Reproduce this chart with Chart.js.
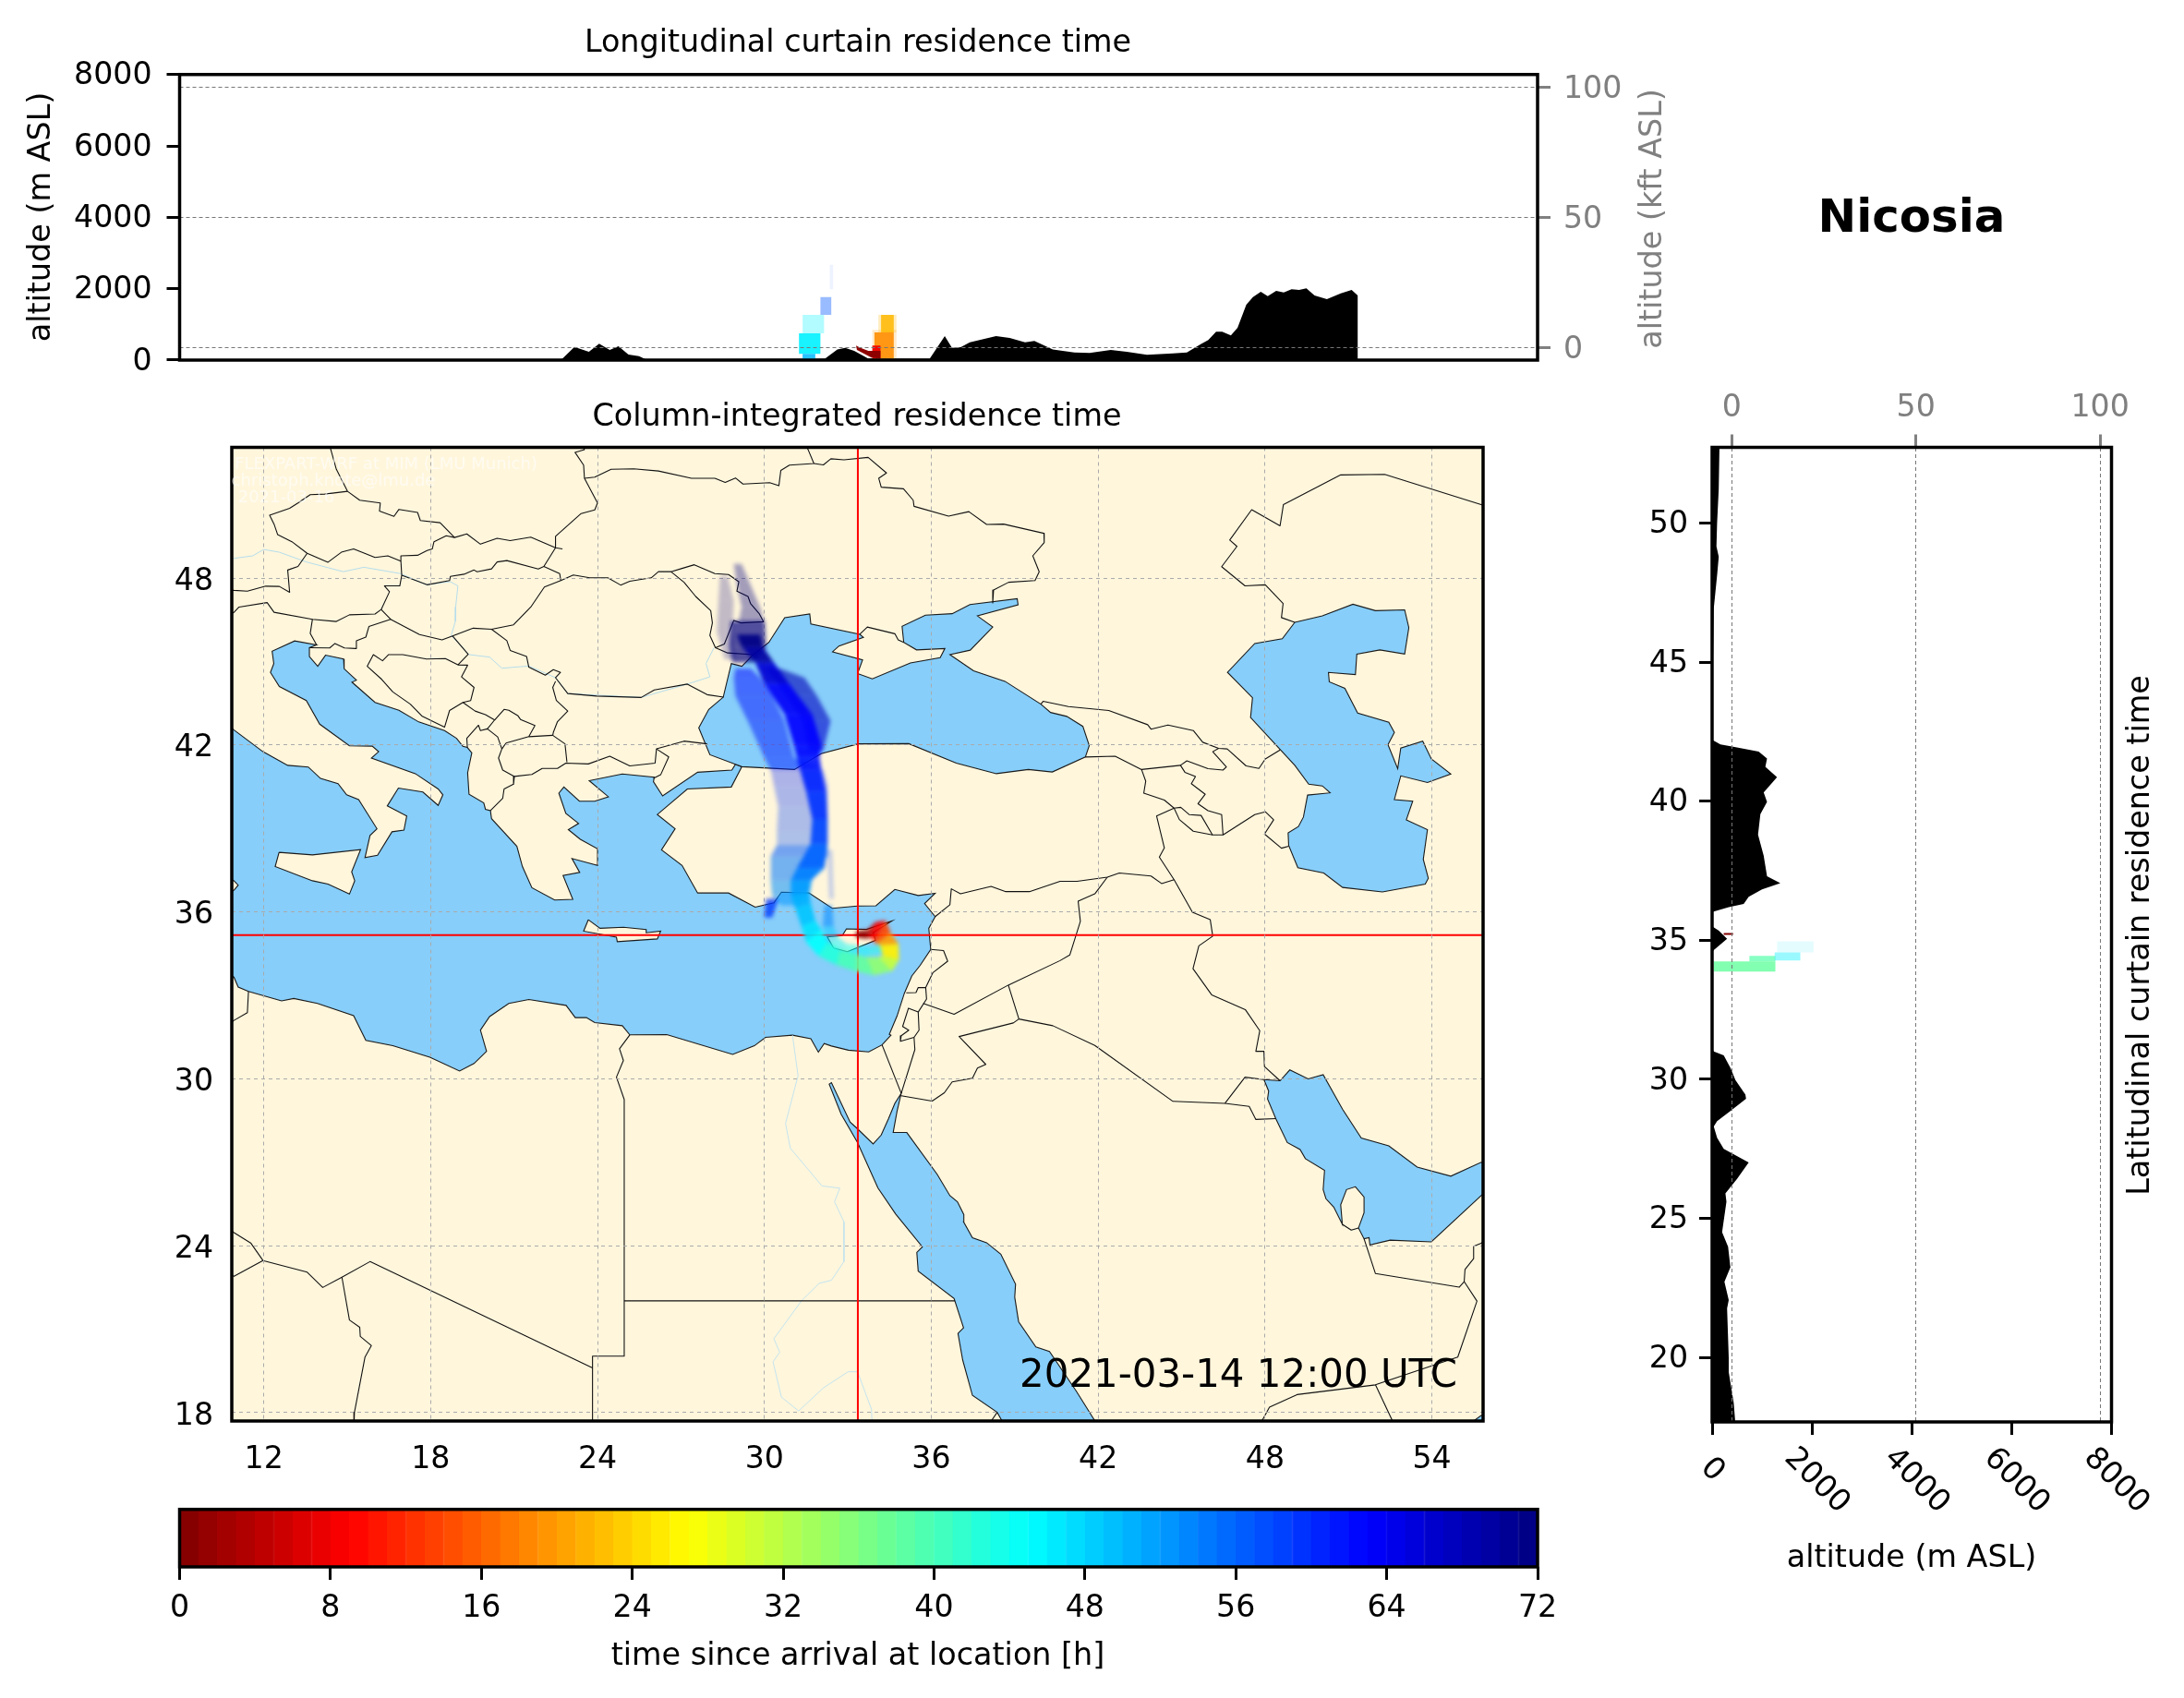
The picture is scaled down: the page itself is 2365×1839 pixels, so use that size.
<!DOCTYPE html>
<html><head><meta charset="utf-8">
<style>html,body{margin:0;padding:0;background:#fff;width:2365px;height:1839px;overflow:hidden}
canvas{position:absolute;left:0;top:0}
#cPlume{filter:blur(2.2px)}</style>
<script src="https://cdn.jsdelivr.net/npm/chart.js@4"></script>
</head><body>
<canvas id="cTop" width="2365" height="1839"></canvas>
<canvas id="cMap" width="2365" height="1839"></canvas>
<canvas id="cPlume" width="2365" height="1839"></canvas>
<canvas id="cMapFrame" width="2365" height="1839"></canvas>
<canvas id="cSide" width="2365" height="1839"></canvas>
<canvas id="cBar" width="2365" height="1839"></canvas>
<script>
// ---------- axis ticks ----------
const altTicks=[0,2000,4000,6000,8000];
const kftTicks=[0,50,100];
const lonTicks=[12,18,24,30,36,42,48,54];
const latTicks=[18,24,30,36,42,48];
const sideLatTicks=[20,25,30,35,40,45,50];
const hourTicks=[0,8,16,24,32,40,48,56,64,72];
const hourLevels=[0,1,2,3,4,5,6,7,8,9,10,11,12,13,14,15,16,17,18,19,20,21,22,23,24,25,26,27,28,29,30,31,32,33,34,35,36,37,38,39,40,41,42,43,44,45,46,47,48,49,50,51,52,53,54,55,56,57,58,59,60,61,62,63,64,65,66,67,68,69,70,71];
const stationLon=[33.36], stationLat=[35.17];

// ---------- terrain curtains ----------
const terrainLonAlt=[[23.4,0],[23.53,40],[23.93,370],[24.41,230],[24.75,457],[25.1,285],[25.39,390],[25.72,155],[26.07,110],[26.3,20],[32.23,40],[32.64,300],[32.9,345],[33.2,260],[33.66,45],[35.7,40],[36.2,672],[36.44,345],[36.73,362],[37.03,500],[37.9,672],[38.35,620],[38.86,500],[39.17,535],[39.78,300],[40.49,215],[41,198],[41.7,285],[42.23,233],[42.9,148],[43.76,190],[44.22,215],[44.68,448],[44.93,560],[45.19,793],[45.39,793],[45.68,690],[45.9,905],[46.19,1552],[46.41,1767],[46.67,1914],[46.9,1793],[47.18,1940],[47.43,1896],[47.69,1983],[47.94,1965],[48.18,2008],[48.45,1810],[48.86,1707],[49.32,1870],[49.68,1965],[49.88,1810],[49.88,0]];
const terrainLatAltA=[[52.72,147],[51.23,133],[50,100],[49.16,87],[48.79,133],[48.12,100],[46.93,33],[45.3,20],[44,5],[42.34,0]];
const terrainLatAltB=[[42.2,10],[42.04,167],[41.96,400],[41.78,933],[41.53,1100],[41.23,1067],[40.86,1300],[40.31,1033],[39.97,1100],[39.53,967],[38.79,920],[38.04,1033],[37.3,1100],[37.05,1367],[36.83,1000],[36.56,733],[36.3,633],[36.19,333],[36.01,0]];
const terrainLatAltC=[[35.5,0],[35.35,130],[35.05,300],[34.64,33],[34.55,0]];
const terrainLatAltD=[[31.1,0],[31,33],[30.86,233],[30.41,367],[29.97,467],[29.45,667],[29.3,680],[28.86,367],[28.49,100],[28.3,33],[27.9,100],[27.5,233],[27.01,733],[26.42,500],[25.9,267],[25.6,287],[24.5,200],[23.98,320],[23.24,367],[22.72,247],[22.06,333],[21.76,300],[19.99,333],[19.47,333],[18.36,433],[17.6,467],[17.6,0]];

// residence cells: from, to, low, high, hour, opacity
const lonCurtainCells=[[33.8,34.6,0,850,20,.2],[34.09,34.51,776,1267,22,.85],[34.0,34.6,776,1267,22,.25],[33.87,34.51,43,776,19,.9],[31.37,32.08,172,750,46,.9],[31.49,31.91,0,172,50,.85],[31.49,32.2,750,1267,46,.3],[32.08,32.44,1267,1767,57,.4],[32.39,32.5,1983,2673,57,.07],[33.8,34.07,43,405,8,.95]];
const lonWedge=[[33.26,405],[33.29,285],[33.77,70],[34.07,43],[34.07,259],[33.67,259],[33.41,345]];
const latCurtainCells=[[33,1267,33.87,34.24,38,.8],[747,1267,34.24,34.44,39,.7],[1253,1767,34.27,34.56,46,.4],[1300,2033,34.56,34.96,47,.1],[233,420,35.19,35.26,0,1]];

// ---------- water and land outlines (lon, lat) ----------
const mediterranean=[[10.5,42.9],[10.93,42.54],[11.97,41.76],[12.86,41.27],[13.6,41.21],[14.04,40.8],[14.67,40.61],[14.98,40.21],[15.41,40.04],[16.07,38.99],[15.82,38.75],[15.64,37.95],[16.09,38.04],[16.61,38.88],[17.04,38.94],[17.14,39.45],[16.44,39.81],[16.84,40.45],[17.72,40.31],[18.27,39.83],[18.44,40.21],[18.27,40.42],[17.45,40.97],[15.87,41.53],[16.13,41.76],[15.9,41.96],[15.08,41.97],[14.01,42.75],[13.53,43.6],[12.56,44.1],[12.24,44.61],[12.36,44.93],[12.3,45.37],[13.11,45.74],[13.9,45.6],[13.64,45.5],[13.64,45.18],[13.94,44.83],[14.22,45.23],[14.87,45.09],[14.89,44.74],[15.33,44.33],[15.17,44.26],[16.0,43.53],[16.86,43.25],[17.57,42.83],[18.5,42.52],[18.93,42.24],[19.16,41.95],[19.32,41.91],[19.48,41.72],[19.33,41.0],[19.38,40.23],[19.91,39.92],[19.97,39.69],[20.15,39.64],[20.19,39.35],[21.1,38.36],[21.3,37.63],[21.64,36.87],[22.46,36.43],[23.11,36.45],[22.76,37.31],[23.36,37.42],[23.08,37.92],[24.0,37.67],[24.0,38.27],[23.38,38.61],[22.95,38.96],[23.32,39.18],[22.86,39.54],[22.61,40.27],[22.79,40.49],[23.35,39.98],[23.9,39.98],[24.39,40.14],[23.7,40.72],[24.89,40.96],[26.04,40.84],[26.01,40.68],[26.34,40.17],[27.6,41.02],[28.83,41.1],[28.96,41.31],[29.19,41.22],[28.81,40.49],[27.23,40.42],[26.15,39.5],[26.79,38.99],[26.3,38.23],[27.04,37.67],[27.6,36.68],[28.71,36.68],[29.67,36.17],[30.34,36.33],[30.61,36.71],[31.6,36.68],[32.44,36.13],[33.35,36.21],[34.01,36.22],[34.69,36.81],[35.53,36.59],[36.14,36.67],[35.76,36.3],[36.14,35.83],[35.91,35.41],[35.98,34.65],[35.6,34.08],[35.3,33.7],[35.03,33.07],[34.77,32.26],[34.49,31.6],[34.55,31.57],[34.23,31.22],[33.75,30.97],[33.02,31.03],[32.41,31.18],[32.15,31.27],[31.94,30.96],[31.67,31.44],[31.01,31.57],[30.04,31.49],[29.64,31.19],[28.86,30.88],[26.49,31.59],[25.16,31.58],[24.89,31.91],[23.9,32.02],[23.6,32.2],[23.2,32.2],[22.87,32.64],[21.53,32.85],[20.81,32.71],[20.12,32.24],[19.79,31.75],[20.01,30.99],[19.56,30.55],[19.04,30.28],[17.97,30.78],[16.64,31.19],[15.67,31.38],[15.23,32.27],[13.93,32.71],[13.08,32.89],[12.64,32.8],[11.45,33.14],[11.08,33.3],[10.93,33.65],[10.5,34.0]];
const blackSea=[[28.96,41.31],[29.19,41.22],[31.08,41.12],[32.04,41.69],[33.37,42.04],[35.19,42.05],[36.9,41.35],[38.34,40.97],[39.49,41.12],[40.35,41.03],[41.54,41.57],[41.68,41.98],[41.45,42.67],[40.87,43.03],[40.29,43.17],[39.94,43.47],[38.65,44.29],[37.52,44.67],[36.67,45.25],[37.4,45.41],[38.21,46.24],[37.66,46.64],[39.12,47.04],[39.09,47.26],[37.39,47.05],[36.75,46.72],[35.79,46.67],[34.95,46.27],[35.01,45.69],[35.47,45.42],[36.49,45.47],[36.32,45.14],[35.25,44.95],[33.88,44.38],[33.35,44.57],[33.53,45.06],[32.45,45.35],[32.68,45.56],[33.56,45.87],[33.43,45.98],[31.67,46.35],[31.63,46.71],[30.73,46.58],[30.16,45.69],[29.6,45.25],[29.19,44.83],[28.81,44.93],[28.52,43.72],[28.0,43.28],[27.64,42.62],[28.04,41.65]];
const caspianSea=[[49.07,46.41],[50.06,46.64],[51.16,47.06],[51.97,46.83],[53.02,46.86],[53.17,46.22],[53.02,45.27],[52.13,45.42],[51.3,45.27],[51.25,44.53],[50.28,44.61],[50.31,44.27],[50.87,44.04],[51.33,43.15],[52.45,42.82],[52.65,42.45],[52.42,42.01],[52.77,41.15],[52.88,41.89],[53.67,42.14],[53.98,41.5],[54.68,40.96],[53.84,40.65],[52.88,40.89],[52.65,40.04],[53.31,39.98],[53.08,39.31],[53.84,38.96],[53.69,37.89],[53.87,37.21],[53.76,37.0],[52.22,36.72],[50.79,36.88],[50.11,37.4],[49.18,37.59],[48.85,38.39],[48.83,38.84],[49.2,39.07],[49.38,39.41],[49.53,40.2],[50.34,40.28],[50.06,40.53],[49.57,40.59],[49.07,41.27],[47.48,42.99],[47.55,43.7],[46.65,44.61],[47.63,45.65],[48.62,45.82]];
const redSea=[[42.0,17.4],[41.88,17.71],[41.21,18.78],[40.25,20.2],[39.76,20.36],[39.14,21.27],[39.0,22.15],[39.03,22.62],[38.5,23.7],[37.99,24.11],[37.48,24.29],[37.16,24.86],[37.17,25.12],[36.94,25.58],[36.67,25.8],[36.21,26.57],[35.12,28.07],[34.63,28.07],[34.77,28.84],[34.92,29.48],[34.69,29.12],[34.46,28.56],[34.2,27.98],[33.91,27.66],[33.32,28.23],[33.08,28.45],[32.41,29.86],[32.33,29.81],[32.76,28.73],[33.35,27.71],[34.08,26.08],[34.72,25.14],[35.68,23.96],[35.48,23.76],[35.53,23.09],[36.82,22.1],[37.16,21.05],[36.96,20.85],[37.13,19.89],[37.48,18.62],[38.37,18.01],[38.54,17.71],[38.7,17.4]];
const persianGulf=[[47.96,29.97],[48.54,29.93],[48.89,30.32],[49.55,30.0],[50.09,30.15],[50.79,28.9],[51.46,27.87],[52.45,27.59],[53.47,26.83],[54.68,26.5],[55.77,27.0],[56.5,26.6],[56.5,26.5],[55.77,25.8],[53.98,24.14],[52.5,24.2],[51.77,24.03],[51.74,24.29],[51.56,24.25],[51.36,24.64],[51.56,25.19],[51.56,25.75],[51.25,26.12],[50.93,26.02],[50.72,25.47],[50.78,24.77],[50.47,25.39],[50.19,25.69],[50.09,26.02],[50.14,26.71],[49.45,27.13],[49.26,27.46],[48.8,27.71],[48.39,28.56],[48.09,29.28],[48.13,29.56]];
const gulfOfAden=[[55.51,17.71],[55.77,17.9],[56.5,17.9],[56.5,17.4],[55.4,17.4]];
const sicily=[[12.55,38.14],[13.75,38.05],[15.48,38.24],[15.16,37.44],[15.27,37.12],[15.08,36.64],[14.31,37.0],[13.75,37.12],[12.41,37.63]];
const crete=[[23.67,35.72],[24.09,35.41],[24.93,35.45],[25.75,35.37],[25.75,35.25],[26.27,35.31],[26.15,35.03],[24.71,34.93],[24.68,35.09],[23.5,35.31]];
const cyprus=[[32.73,35.14],[32.8,35.15],[32.95,35.39],[33.67,35.37],[34.58,35.67],[33.9,35.25],[34.0,34.98],[32.98,34.57],[32.49,34.7],[32.26,35.1]];
const capBon=[[10.5,37.3],[10.93,37.12],[11.08,36.96],[10.93,36.78],[10.5,36.5]];

// ---------- rivers ----------
const danube=[[10.5,48.7],[10.93,48.71],[11.6,48.8],[12,49.03],[12.56,48.93],[13.53,48.58],[14.86,48.23],[15.6,48.39],[16.93,48.16],[17.85,47.76],[18.71,47.87],[18.98,47.72],[18.9,46.96],[18.89,46.45],[18.74,45.94],[19.38,45.25],[20.12,45.16],[20.56,44.76],[21.53,44.84],[22.49,44.42],[22.93,43.85],[25.57,43.71],[27.23,44.19],[28.04,44.45],[27.9,44.93],[28.19,45.5]];
const nile=[[31.01,31.57],[31.21,30.11],[30.76,28.4],[30.93,27.51],[32.07,26.15],[32.71,26.07],[32.52,25.58],[32.86,24.86],[32.86,23.43],[32.41,22.76],[31.97,22.65],[31.35,22.04],[30.34,20.66],[30.55,20.17],[30.31,19.83],[30.61,18.56],[31.23,18.06],[32.12,18.89],[33.01,19.47],[33.35,19.47],[33.85,18.12],[33.88,17.4]];

// ---------- borders ----------
const borders=[
[[14.3,53],[14.41,52.62],[14.61,51.91],[15.01,51.12],[15.45,50.8],[16.19,50.7],[16.16,50.41],[16.68,50.22],[16.86,50.47],[17.53,50.36],[17.63,50.07],[18.34,49.99],[18.86,49.46]],
[[15.01,51.12],[14.19,51.02],[13.67,51.0],[13.23,50.7],[12.93,50.51],[12.21,50.26],[12.37,49.94],[12.5,49.56],[13.01,49.31],[13.56,48.89],[14.31,48.57],[14.79,48.93],[15.23,49.05],[16.0,48.74],[16.46,48.8],[16.93,48.61]],
[[16.93,48.61],[16.93,48.8],[17.53,48.82],[17.87,48.99],[18.06,49.05],[18.12,49.31],[18.56,49.52],[18.86,49.46],[19.3,49.59],[19.79,49.22],[20.39,49.43],[20.86,49.35],[21.6,49.47],[22.49,49.09],[22.74,49.05]],
[[13.56,48.89],[13.23,48.42],[12.86,48.29],[12.93,47.49],[12.56,47.7],[12.07,47.71],[11.41,47.53],[10.93,47.56],[10.5,47.6]],
[[10.5,46.6],[10.93,46.77],[11.11,46.96],[12.12,47.12],[12.37,46.77],[13.75,46.52],[14.61,46.44],[15.08,46.68],[16.0,46.71],[16.22,46.87],[16.52,47.51],[16.34,47.72],[16.89,47.72],[16.96,48.1],[16.93,48.61]],
[[16.96,48.1],[17.87,47.76],[18.68,47.91],[18.71,48.06],[19.2,48.14],[19.56,48.29],[19.67,48.23],[20.19,48.33],[20.39,48.58],[20.74,48.63],[21.87,48.33],[22.07,48.42],[22.49,49.09],[22.49,49.5],[23.41,50.32],[23.9,50.45],[24.0,50.7],[23.53,51.59],[23.5,52.06],[23.19,52.52],[23.53,52.62],[23.3,53]],
[[23.53,51.59],[23.9,51.63],[24.49,51.91],[25.3,51.93],[26.19,51.85],[27.38,51.59],[28.22,51.59],[28.59,51.44],[28.96,51.6],[29.23,51.38],[30.19,51.43],[30.52,51.32],[30.59,51.87],[30.9,52.06],[31.78,52.12],[31.57,52.62],[31.4,53]],
[[31.78,52.12],[32.12,52.07],[32.39,52.29],[32.86,52.25],[33.73,52.34],[34.39,51.78],[34.11,51.59],[34.2,51.27],[35.0,51.21],[35.35,50.8],[35.38,50.58],[36.62,50.23],[37.35,50.39],[37.99,49.93],[38.6,49.94],[40.05,49.61],[40.06,49.28],[39.65,48.8],[39.88,48.23],[39.73,47.91],[38.78,47.85],[38.24,47.57],[38.21,47.11]],
[[56.3,50.4],[55.77,50.64],[52.3,51.73],[50.72,51.71],[48.66,50.64],[48.54,49.88],[47.52,50.46],[46.73,49.37],[46.99,49.14],[46.44,48.41],[47.28,47.72],[48.01,47.76],[48.65,47.09],[48.59,46.58],[49.07,46.41]],
[[33.43,45.98],[33.7,46.24],[34.69,46.0],[34.81,45.78],[35.01,45.69]],
[[13.75,46.52],[13.67,46.01],[13.9,45.6]],
[[13.64,45.5],[14.37,45.49],[14.56,45.65],[14.9,45.49],[15.3,45.47],[15.33,45.75],[15.67,45.88],[15.78,46.26],[16.56,46.52],[16.22,46.87]],
[[16.56,46.52],[17.6,45.97],[18.41,45.78],[18.79,45.92],[19.53,46.2],[20.19,46.16],[20.98,46.32],[21.6,46.96],[22.09,47.68],[22.68,47.91],[22.64,48.16],[22.07,48.42]],
[[22.68,47.91],[23.13,48.11],[23.72,48.01],[24.37,48.01],[24.83,47.75],[25.16,47.89],[25.93,48.01],[26.19,48.23],[26.64,48.23],[27.01,48.34],[27.48,48.48],[28.22,48.16],[28.71,48.13],[29.08,47.87],[29.01,47.53],[29.41,47.34],[29.5,47.09],[29.82,46.71],[29.97,46.43],[29.16,46.39],[28.9,46.48],[28.56,45.63],[28.24,45.5]],
[[26.64,48.23],[27.11,47.85],[27.53,47.34],[28.07,46.83],[28.13,46.39],[28.04,45.94],[28.24,45.5],[28.68,45.31],[29.6,45.25]],
[[20.19,46.16],[20.74,45.75],[20.86,45.4],[21.45,45.18],[21.53,44.8],[22.12,44.51],[22.41,44.71],[22.67,44.61],[22.49,44.42],[22.93,43.85],[23.97,43.76],[25.57,43.71],[26.04,43.98],[27.23,44.19],[27.94,43.81],[28.53,43.72]],
[[22.49,44.29],[22.39,44.07],[22.52,43.6],[22.93,43.22],[22.56,42.84],[22.41,42.45],[22.39,42.35],[22.83,42.04],[22.9,41.38]],
[[18.79,45.92],[19.35,45.26],[18.98,44.88],[18.53,45.11],[17.85,45.09],[17.0,45.25],[16.49,45.25],[16.27,45.03],[15.94,45.25],[15.72,44.83],[16.24,44.36],[16.64,43.91],[17.27,43.47],[17.7,43.03],[18.5,42.64],[18.68,43.24],[19.16,43.53],[19.44,43.6],[19.56,44.07],[19.11,44.45],[19.33,44.87],[18.98,44.88]],
[[19.16,43.53],[19.6,43.22],[19.97,43.09],[20.3,42.9],[20.04,42.58]],
[[19.32,41.91],[19.3,42.24],[19.72,42.71],[19.79,42.52],[20.04,42.58],[20.41,42.29],[20.56,41.86],[20.71,42.07]],
[[20.3,42.9],[20.64,43.28],[20.81,43.25],[21.13,43.06],[21.23,42.92],[21.75,42.7],[21.53,42.3],[20.71,42.07]],
[[21.53,42.3],[22.39,42.35]],
[[20.56,41.86],[20.44,41.53],[20.59,41.1],[21.01,40.87],[21.64,40.94],[22.01,41.16],[22.56,41.16],[22.86,41.35],[23.67,41.32],[24.44,41.6],[25.16,41.25],[26.07,41.35],[26.12,41.86],[27.11,42.14],[27.94,42.04]],
[[21.01,40.87],[20.98,40.59],[20.64,40.42],[20.59,40.08],[20.15,39.64]],
[[26.12,41.86],[26.56,41.57],[26.27,40.93],[26.01,40.8]],
[[39.94,43.47],[40.02,43.57],[40.93,43.38],[42.38,43.24],[43.78,42.73],[43.9,42.57],[44.51,42.72],[45.42,42.52],[45.76,42.1],[46.33,41.88],[46.64,41.86],[47.32,41.25],[47.78,41.16],[48.01,41.5],[48.54,41.82]],
[[41.54,41.57],[42.61,41.6],[43.56,41.12],[44.96,41.27],[45.19,41.43],[45.95,41.15],[46.49,41.1],[46.61,41.21],[46.12,41.76],[46.33,41.88]],
[[44.96,41.27],[45.12,41.02],[45.5,40.87],[45.35,40.61],[45.85,40.23],[45.59,39.89],[45.95,39.64],[46.44,39.5],[46.49,38.77]],
[[43.56,41.12],[43.71,40.7],[43.64,40.27],[44.38,40.02],[44.73,39.73],[44.1,39.45],[44.38,38.3],[44.2,37.97],[44.73,37.16],[45.39,35.99],[46.03,35.72],[46.12,35.13],[45.62,34.78],[45.41,33.96],[46.08,33.02],[47.29,32.49],[47.81,31.73],[47.67,30.99],[47.96,30.99],[47.98,30.44],[48.54,29.93]],
[[44.73,39.73],[44.97,39.76],[45.27,39.5],[45.7,39.47],[46.11,38.77]],
[[44.73,39.73],[44.92,39.32],[45.42,38.9],[46.11,38.77],[46.49,38.77],[47.63,39.5],[48.01,39.6],[48.31,39.31],[47.98,38.8],[48.59,38.29],[48.85,38.36]],
[[36.14,35.83],[36.67,36.26],[36.72,36.83],[37.05,36.65],[38.15,36.92],[38.68,36.73],[39.53,36.73],[40.63,37.1],[41.24,37.1],[42.33,37.25],[42.76,37.4],[43.9,37.29],[44.28,37.02],[44.73,37.16]],
[[42.33,37.25],[41.88,36.65],[41.28,36.39],[41.36,35.66],[40.98,34.45],[40.63,34.25],[38.77,33.37],[36.82,32.32],[35.71,32.71]],
[[38.77,33.37],[39.15,32.15],[38.95,32.01],[37.0,31.52],[37.96,30.52],[37.66,30.39],[37.48,30.02],[36.75,29.89],[36.47,29.5],[36.03,29.2],[34.92,29.39]],
[[39.15,32.15],[40.37,31.91],[41.88,31.2],[44.69,29.19],[46.56,29.12],[47.43,29.01],[47.67,28.54],[48.39,28.57]],
[[46.56,29.12],[47.28,30.06],[47.96,29.97]],
[[35.98,34.65],[36.44,34.61],[36.59,34.23],[36.06,33.82],[35.8,33.28],[35.53,33.28],[35.45,33.1],[35.1,33.09]],
[[35.8,33.28],[35.83,32.87],[35.53,32.4],[35.56,31.75],[35.38,31.49],[35.41,31.05],[34.92,29.48]],
[[35.53,32.4],[35.18,32.54],[34.97,31.88],[35.19,31.75],[34.92,31.55],[34.89,31.35],[35.38,31.49]],
[[34.23,31.22],[34.92,29.48]],
[[51.56,24.25],[51.97,23.0],[54.98,22.51],[55.16,22.71],[55.19,23.15],[55.5,23.54],[55.5,23.98],[55.77,24.09],[56.2,24.4]],
[[55.16,22.71],[55.62,22.01],[54.93,20.0],[51.97,19.0],[49.15,18.65],[48.16,18.2],[47.89,17.71],[47.8,17.4]],
[[51.97,19.0],[52.58,17.71],[52.7,17.4]],
[[25.16,31.58],[24.79,31.08],[24.93,30.66],[24.68,30.06],[24.96,29.26],[24.96,20.03],[23.82,20.03],[23.82,17.4]],
[[24.96,22.02],[36.85,22.02]],
[[23.82,19.61],[15.82,23.43],[14.81,22.87],[14.12,22.5],[13.56,23.05],[11.97,23.47],[11.53,24.1],[10.93,24.47],[10.5,24.8]],
[[11.97,23.47],[10.93,22.9],[10.5,23.2]],
[[14.81,22.87],[15.08,21.33],[15.45,21.07],[15.47,20.74],[15.87,20.41],[15.64,20.0],[15.26,18.01],[15.24,17.4]],
[[11.45,33.14],[11.41,32.38],[10.93,32.1],[10.5,31.8]],
[[38.37,18.01],[38.16,17.71],[38.0,17.4]],
[[50.78,24.77],[51.1,24.56],[51.36,24.64]]
];

// ---------- residence-time plume cross-sections: lonA, latA, lonB, latB, hours ----------
const plumeWideSouth=[[30.61,36.24,31.17,36.24,52],[30.28,36.58,31.61,36.58,53],[30.23,37.13,31.72,37.13,53],[30.23,38.0,32.27,38.0,56],[30.45,38.4,32.27,38.4,57]];
const plumeWideMid=[[30.45,38.4,32.27,38.4,57],[30.45,38.9,32.27,38.9,58],[30.5,39.78,32.27,39.78,59],[30.34,40.55,32.27,40.55,60],[30.23,41.11,32.11,41.11,61]];
const plumeWideNorth=[[30.23,41.11,32.11,41.11,61],[30.0,41.55,31.06,41.55,61],[29.4,42.87,30.72,42.87,62],[28.96,43.76,30.28,43.76,62],[28.9,44.42,29.84,44.42,63],[28.96,44.75,29.51,44.75,63]];
const plumeEastBand=[[31.61,41.77,32.11,41.77,66],[31.39,42.87,32.38,42.87,67],[30.78,43.76,31.89,43.76,68],[30.34,44.42,31.44,44.42,68],[30.0,44.75,30.56,44.75,69]];
const plumeBlob=[[28.85,44.97,29.62,44.97,72],[28.73,45.53,30.06,45.53,72],[28.79,46.46,30.01,46.46,72]];
const plumeTopStreak=[[28.9,48.51,29.18,48.51,72],[29.01,47.74,29.51,47.74,72],[29.18,46.96,29.84,46.96,72],[29.07,46.41,30.01,46.41,72]];
const plumeWestStreak=[[28.4,48.07,28.68,48.07,72],[28.35,47.18,28.9,47.18,72],[28.29,46.08,28.85,46.08,72],[28.57,45.08,28.96,45.08,72]];
const plumeThin=[[32.27,38.23,32.44,38.23,58],[32.33,36.47,32.49,36.47,58]];
const plumeHook=[[32.16,36.24,32.44,36.24,55],[32.1,35.47,32.49,35.47,52]];
const plumeInner=[[32.1,35.47,32.49,35.47,50],[32.27,34.81,32.66,35.08,47],[32.83,34.53,32.94,34.86,45],[33.71,34.42,33.77,34.75,44],[34.26,34.53,34.26,34.81,42]];
const plumeTail=[[30.06,36.47,30.5,36.47,58],[30.0,35.8,30.28,35.8,60]];
const plumeCore=[[29.01,45.97,29.84,45.97,72],[29.18,45.53,29.95,45.53,71],[29.67,44.97,30.34,44.97,68],[30.0,44.2,30.89,44.2,64],[30.73,43.1,31.72,43.1,63],[31.06,41.99,32.05,41.99,63],[31.17,41.55,31.98,41.55,62],[31.28,41.11,32.05,41.11,61],[31.5,40.33,32.22,40.33,60],[31.72,39.34,32.27,39.34,59],[31.66,38.45,32.27,38.45,57],[31.17,37.57,32.16,37.57,55],[30.95,37.13,31.67,37.13,53],[30.95,36.58,31.61,36.69,51],[31.11,36.13,31.67,36.3,50],[31.33,35.47,31.83,35.69,48],[31.5,34.92,32.05,35.36,46],[31.94,34.42,32.27,34.92,44],[32.6,34.09,32.72,34.64,41],[33.27,33.87,33.27,34.48,39],[33.93,33.72,33.66,34.37,37],[34.59,33.87,34.1,34.37,33],[34.84,34.26,34.26,34.42,29],[34.82,34.86,34.15,34.81,23],[34.54,35.25,33.99,34.86,17],[34.37,35.69,33.93,34.97,11],[33.99,35.64,33.82,35.08,6],[33.71,35.36,33.71,35.03,2],[33.29,35.3,33.29,35.08,0]];

// ---------- tick-free text ----------
const textItems=[
 ['Longitudinal curtain residence time',929,47,0,33.4,'#000','normal'],
 ['Column-integrated residence time',928,452,0,33.4,'#000','normal'],
 ['altitude (m ASL)',45,235,-90,33.4,'#000','normal'],
 ['altitude (kft ASL)',1790,237,-90,33.4,'#808080','normal'],
 ['Nicosia',2070,238,0,49.8,'#000','bold'],
 ['Latitudinal curtain residence time',2318,1013,-90,33.4,'#000','normal'],
 ['altitude (m ASL)',2070,1688,0,33.4,'#000','normal'],
 ['time since arrival at location [h]',929,1794,0,33.4,'#000','normal'],
 ['2021-03-14 12:00 UTC',1341,1491,0,41.9,'#000','normal'],
 ['FLEXPART-WRF at MIM (LMU Munich)',418,503,0,18,'rgba(255,255,255,.6)','normal'],
 ['christoph.knote@lmu.de',361,521,0,18,'rgba(255,255,255,.6)','normal'],
 ['2021-03-16',310,539,0,18,'rgba(255,255,255,.6)','normal']
];

const FONT='"DejaVu Sans"';
const tickFont={family:FONT,size:33.2};
Chart.defaults.font.family=FONT;
Chart.defaults.animation=false;

function jet(h,a){
  const t=1-h/72, c=v=>Math.round(255*Math.max(0,Math.min(1,1.5-Math.abs(v))));
  return `rgba(${c(4*t-3)},${c(4*t-2)},${c(4*t-1)},${a==null?1:a})`;
}
const framePlugin={id:'frame',
  beforeDraw(ch){const o=ch.options.plugins.frame||{};if(o.bg){const a=ch.chartArea;ch.ctx.fillStyle=o.bg;ch.ctx.fillRect(a.left,a.top,a.width,a.height);}},
  afterDraw(ch){const o=ch.options.plugins.frame||{};if(o.noStroke)return;const a=ch.chartArea,c=ch.ctx;c.save();c.strokeStyle='#000';c.lineWidth=3.5;c.strokeRect(a.left,a.top,a.width,a.height);c.restore();}};
const polyPlugin={id:'poly',beforeDatasetDraw(ch,args){
  const ds=ch.data.datasets[args.index]; if(!ds.polyFill) return;
  const a=ch.chartArea,c=ch.ctx,p=args.meta.data;
  c.save();c.beginPath();c.rect(a.left,a.top,a.width,a.height);c.clip();
  c.beginPath();p.forEach((e,i)=>i?c.lineTo(e.x,e.y):c.moveTo(e.x,e.y));c.closePath();
  c.fillStyle=ds.polyFill;c.fill();c.restore();}};
const textPlugin={id:'texts',afterDraw(ch){
  const c=ch.ctx;c.save();c.textAlign='center';c.textBaseline='middle';
  textItems.forEach(([s,x,y,r,z,col,w])=>{c.save();c.translate(x,y);c.rotate(r*Math.PI/180);
    c.font=`${w} ${z}px ${FONT}`;c.fillStyle=col;c.fillText(s,0,0);c.restore();});
  c.restore();}};

const zeroFit=s=>{if(s.isHorizontal())s.height=0;else s.width=0;};
const tickList=list=>s=>{s.ticks=list.map(v=>({value:v}));};
function axis(o,centerLabels){
  return Object.assign({type:'linear',afterFit:zeroFit,
    beforeUpdate:s=>{
      s._computeLabelArea=()=>undefined;
      if(centerLabels){
        s._getXAxisLabelAlignment=()=>'center';
        const base=Object.getPrototypeOf(s)._computeLabelItems;
        s._computeLabelItems=function(area){const items=base.call(this,area);
          if(items[0]){items[0].options.translation[0]-=5;items[0].options.translation[1]-=12;}return items;};
      }},
    ticks:{font:tickFont,color:'#000',autoSkip:false,minRotation:0,maxRotation:0,callback:v=>String(v),padding:12},
    grid:{drawOnChartArea:false,offset:false,tickLength:14,tickWidth:3,tickColor:'#000'},border:{display:false}},o);
}
function opts(L,T,R,B,scales,extra){
  return {responsive:false,animation:false,devicePixelRatio:1,
    layout:{padding:{left:L,top:T,right:2365-R,bottom:1839-B}},scales,
    elements:{point:{radius:0,hitRadius:0},line:{tension:0}},
    plugins:Object.assign({legend:{display:false},tooltip:{enabled:false},title:{display:false}},extra||{}),events:[]};
}
function ordered(list){list.forEach((d,i)=>{d.order=list.length-i;});return list;}
const poly=(pts,fill,line,w)=>({type:'line',data:pts.map(p=>({x:p[0],y:p[1]})).concat(line?[{x:pts[0][0],y:pts[0][1]}]:[]),polyFill:fill,
  borderColor:line||'rgba(0,0,0,0)',borderWidth:line?(w||1.1):0,pointRadius:0,fill:false});
const path=(pts,col,w)=>({type:'line',data:pts.map(p=>({x:p[0],y:p[1]})),borderColor:col,borderWidth:w,pointRadius:0,fill:false,borderJoinStyle:'round'});
const rectLon=r=>poly([[r[0],r[2]],[r[1],r[2]],[r[1],r[3]],[r[0],r[3]]],jet(r[4],r[5]));
// one filled quad between each pair of neighbouring plume cross-sections
const ribbon=(rows,a)=>rows.slice(1).map((r,i)=>{const q=rows[i];
  return poly([[q[0],q[1]],[q[2],q[3]],[r[2],r[3]],[r[0],r[1]]],jet((q[4]+r[4])/2,a));});
const LON=[10.85,55.84], LAT=[17.7,52.7];

// ---------- top curtain ----------
new Chart(document.getElementById('cTop'),{type:'line',data:{datasets:ordered([
    poly(terrainLonAlt,'#000'),
    ...lonCurtainCells.map(rectLon),
    poly(lonWedge,jet(1,1))
  ])},
  plugins:[framePlugin,polyPlugin],
  options:opts(194.5,80.7,1665,390,{
    x:{type:'linear',display:false,min:LON[0],max:LON[1]},
    y:axis({position:'left',min:0,max:8000,afterBuildTicks:tickList(altTicks),
      ticks:{font:tickFont,color:'#000',autoSkip:false,callback:v=>String(v),padding:16,labelOffset:2}}),
    y2:axis({position:'right',min:-4.85,max:104.8,afterBuildTicks:tickList(kftTicks),
      ticks:{font:tickFont,color:'#808080',autoSkip:false,callback:v=>String(v),padding:14,labelOffset:3},
      grid:{drawOnChartArea:true,color:'#777',lineWidth:1,tickLength:14,tickWidth:3,tickColor:'#808080',z:1},
      border:{display:false,dash:[4,3]}})
  })});

// ---------- map ----------
new Chart(document.getElementById('cMap'),{type:'line',data:{datasets:ordered([
    ...[mediterranean,blackSea,caspianSea,redSea,persianGulf,gulfOfAden].map(p=>poly(p,'#87CEFA','#1a1a1a')),
    ...[sicily,crete,cyprus,capBon].map(p=>poly(p,'#FFF6DC','#1a1a1a')),
    path(danube,'#B5DDEB',1),path(nile,'#C4E4EE',1),
    ...borders.map(b=>path(b,'#111',1.1)),
    path([[LON[0],stationLat[0]],[LON[1],stationLat[0]]],'#FF0000',2),
    path([[stationLon[0],LAT[0]],[stationLon[0],LAT[1]]],'#FF0000',2)
  ])},
  plugins:[framePlugin,polyPlugin],
  options:opts(251,484.5,1606,1539,{
    x:axis({position:'bottom',min:LON[0],max:LON[1],afterBuildTicks:tickList(lonTicks),
      ticks:{font:tickFont,color:'#000',autoSkip:false,minRotation:0,maxRotation:0,callback:v=>String(v),padding:22},
      grid:{color:'#aaa',lineWidth:1,drawTicks:false,tickLength:0,offset:false,z:1},border:{display:false,dash:[4,4]}}),
    y:axis({position:'left',min:LAT[0],max:LAT[1],afterBuildTicks:tickList(latTicks),
      ticks:{font:tickFont,color:'#000',autoSkip:false,callback:v=>String(v),padding:20,labelOffset:4},
      grid:{color:'#aaa',lineWidth:1,drawTicks:false,tickLength:0,offset:false,z:1},border:{display:false,dash:[4,4]}})
  },{frame:{bg:'#FFF6DC',noStroke:true}})});

// ---------- plume, softened on its own layer ----------
new Chart(document.getElementById('cPlume'),{type:'line',data:{datasets:ordered([
    ...ribbon(plumeWestStreak,.24),...ribbon(plumeTopStreak,.36),
    ...ribbon(plumeWideSouth,.55),...ribbon(plumeWideMid,.32),...ribbon(plumeWideNorth,.5),
    ...ribbon(plumeThin,.24),...ribbon(plumeEastBand,.6),
    ...ribbon(plumeHook,.55),...ribbon(plumeInner,.5),...ribbon(plumeTail,.8),
    ...ribbon(plumeBlob,.68),...ribbon(plumeCore,.92)
  ])},
  plugins:[polyPlugin],
  options:opts(251,484.5,1606,1539,{
    x:{type:'linear',display:false,min:LON[0],max:LON[1]},
    y:{type:'linear',display:false,min:LAT[0],max:LAT[1]}
  })});

// ---------- map frame, above the plume ----------
new Chart(document.getElementById('cMapFrame'),{type:'line',data:{datasets:[]},
  plugins:[framePlugin],
  options:opts(251,484.5,1606,1539,{
    x:{type:'linear',display:false,min:LON[0],max:LON[1]},
    y:{type:'linear',display:false,min:LAT[0],max:LAT[1]}
  })});

// ---------- side curtain ----------
new Chart(document.getElementById('cSide'),{type:'line',data:{datasets:ordered([
    ...[terrainLatAltA,terrainLatAltB,terrainLatAltC,terrainLatAltD].map(t=>poly(
      (t===terrainLatAltA?[[0,t[0][0]]]:[]).concat(t.map(p=>[p[1],p[0]]),t===terrainLatAltD?[]:[[0,t[t.length-1][0]]]),'#000')),
    ...latCurtainCells.map(r=>poly([[r[0],r[2]],[r[1],r[2]],[r[1],r[3]],[r[0],r[3]]],jet(r[4],r[5])))
  ])},
  plugins:[framePlugin,polyPlugin],
  options:opts(1854,484.5,2286.5,1540,{
    x:axis({position:'bottom',min:0,max:8000,afterBuildTicks:tickList(altTicks),
      ticks:{font:tickFont,color:'#000',autoSkip:false,minRotation:-45,maxRotation:-45,labelOffset:5,callback:v=>String(v),padding:36}},true),
    x2:axis({position:'top',min:-5.34,max:103.1,afterBuildTicks:tickList(kftTicks),
      ticks:{font:tickFont,color:'#808080',autoSkip:false,minRotation:0,maxRotation:0,callback:v=>String(v),padding:8},
      grid:{drawOnChartArea:true,color:'#777',lineWidth:1,tickLength:14,tickWidth:3,tickColor:'#808080',z:1},
      border:{display:false,dash:[4,3]}}),
    y:axis({position:'left',min:17.68,max:52.72,afterBuildTicks:tickList(sideLatTicks),
      ticks:{font:tickFont,color:'#000',autoSkip:false,callback:v=>String(v),padding:12,labelOffset:2}})
  })});

// ---------- colour bar ----------
new Chart(document.getElementById('cBar'),{type:'bar',data:{datasets:[{
    data:hourLevels.map(h=>({x:h+0.5,y:1})),
    backgroundColor:hourLevels.map(h=>jet(h+0.5)),borderColor:hourLevels.map(h=>jet(h+0.5)),borderWidth:1,
    categoryPercentage:1,barPercentage:1}]},
  plugins:[framePlugin,textPlugin],
  options:opts(194.5,1634.7,1665,1697,{
    x:axis({position:'bottom',min:0,max:72,offset:false,afterBuildTicks:tickList(hourTicks),
      ticks:{font:tickFont,color:'#000',autoSkip:false,minRotation:0,maxRotation:0,callback:v=>String(v),padding:11}}),
    y:{type:'linear',display:false,min:0,max:1}
  })});
</script>
</body></html>
